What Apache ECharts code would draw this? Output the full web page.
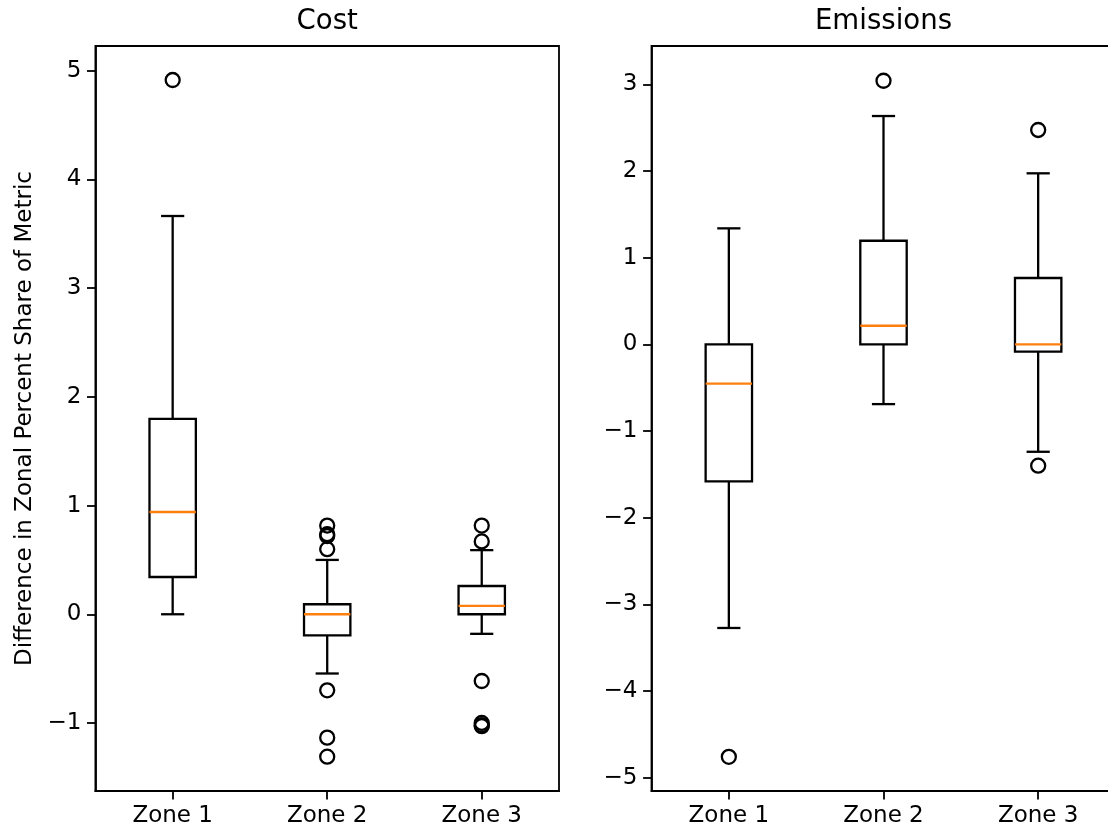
<!DOCTYPE html>
<html>
<head>
<meta charset="utf-8">
<script src="https://cdn.jsdelivr.net/npm/echarts@6/dist/echarts.min.js"></script>
<style>
html,body{margin:0;padding:0;background:#fff;}
#chart{width:1108px;height:830px;}
</style>
</head>
<body>
<div id="chart"></div>
<script>
// ---- data ----
const categories = ['Zone 1', 'Zone 2', 'Zone 3'];
// [low whisker, Q1, median, Q3, high whisker]
const costBoxes = [
  [0.00, 0.343, 0.941, 1.797, 3.664],
  [-0.545, -0.194, 0.00, 0.092, 0.50],
  [-0.18, 0.00, 0.077, 0.26, 0.59]
];
const costOutliers = [
  ['Zone 1', 4.915],
  ['Zone 2', 0.816], ['Zone 2', 0.737], ['Zone 2', 0.72], ['Zone 2', 0.599],
  ['Zone 2', -0.70], ['Zone 2', -1.135], ['Zone 2', -1.31],
  ['Zone 3', 0.816], ['Zone 3', 0.67], ['Zone 3', -0.614],
  ['Zone 3', -1.00], ['Zone 3', -1.02], ['Zone 3', -1.03]
];
const emisBoxes = [
  [-3.273, -1.581, -0.454, 0.00, 1.338],
  [-0.69, 0.00, 0.214, 1.195, 2.634],
  [-1.24, -0.085, 0.00, 0.765, 1.973]
];
const emisOutliers = [
  ['Zone 1', -4.76],
  ['Zone 2', 3.041],
  ['Zone 3', -1.40], ['Zone 3', 2.473]
];
const costTicks = [-1, 0, 1, 2, 3, 4, 5];
const emisTicks = [-5, -4, -3, -2, -1, 0, 1, 2, 3];
const costRange = [-1.626, 5.228];
const emisRange = [-5.154, 3.442];
const titles = ['Cost', 'Emissions'];
const yLabel = 'Difference in Zonal Percent Share of Metric';

// ---- style ----
const FONT = 'DejaVu Sans';
const FS = 23;
const LW = 2.3;
const SP = 1.8;
const ORANGE = '#ff7f0e';

const chart = echarts.init(document.getElementById('chart'), null, {renderer: 'canvas'});

function fmt(v) {
  return v < 0 ? '\u2212' + Math.abs(v) : String(v);
}

function boxRender(params, api) {
  const idx = api.value(0);
  const low = api.value(1), q1 = api.value(2), med = api.value(3), q3 = api.value(4), high = api.value(5);
  const band = api.size([1, 0])[0];
  const hw = band * 0.15;   // box half width (0.3 data units)
  const cw = band * 0.075;  // cap half width
  const pLow = api.coord([idx, low]);
  const pQ1 = api.coord([idx, q1]);
  const pMed = api.coord([idx, med]);
  const pQ3 = api.coord([idx, q3]);
  const pHigh = api.coord([idx, high]);
  const x = pMed[0];
  const black = {stroke: '#000', lineWidth: LW, fill: null};
  return {
    type: 'group',
    children: [
      {type: 'line', shape: {x1: x, y1: pQ1[1], x2: x, y2: pLow[1]}, style: black},
      {type: 'line', shape: {x1: x, y1: pQ3[1], x2: x, y2: pHigh[1]}, style: black},
      {type: 'line', shape: {x1: x - cw, y1: pLow[1], x2: x + cw, y2: pLow[1]}, style: black},
      {type: 'line', shape: {x1: x - cw, y1: pHigh[1], x2: x + cw, y2: pHigh[1]}, style: black},
      {type: 'rect', shape: {x: x - hw, y: pQ3[1], width: 2 * hw, height: pQ1[1] - pQ3[1]},
        style: {stroke: '#000', lineWidth: LW, fill: 'none'}},
      {type: 'line', shape: {x1: x - hw, y1: pMed[1], x2: x + hw, y2: pMed[1]},
        style: {stroke: ORANGE, lineWidth: LW}}
    ]
  };
}

function boxData(boxes) {
  return boxes.map((b, i) => [i].concat(b));
}

const grids = [
  {left: 95.4, top: 46, width: 463.6, height: 745},
  {left: 651.5, top: 46, width: 464, height: 745}
];

function xAxisFor(gi) {
  return {
    type: 'category', gridIndex: gi, data: categories, boundaryGap: true,
    axisLine: {show: true, onZero: false, lineStyle: {color: '#000', width: SP}},
    axisTick: {show: true, alignWithLabel: true, length: 8.4, lineStyle: {color: '#000', width: SP}},
    axisLabel: {color: '#000', fontFamily: FONT, fontSize: FS, margin: 14},
    splitLine: {show: false}
  };
}
function yAxisFor(gi, range, ticks) {
  return {
    type: 'value', gridIndex: gi, min: range[0], max: range[1],
    axisLine: {show: true, onZero: false, lineStyle: {color: '#000', width: SP}},
    axisTick: {show: true, length: 8.4, lineStyle: {color: '#000', width: SP}, customValues: ticks},
    axisLabel: {color: '#000', fontFamily: FONT, fontSize: FS, margin: 14, customValues: ticks, formatter: fmt},
    splitLine: {show: false}
  };
}

const option = {
  backgroundColor: '#fff',
  animation: false,
  grid: grids.map(g => Object.assign({show: true, borderColor: '#000', borderWidth: SP, backgroundColor: 'transparent',
    containLabel: false, outerBoundsMode: 'none'}, g)),
  xAxis: [xAxisFor(0), xAxisFor(1)],
  yAxis: [yAxisFor(0, costRange, costTicks), yAxisFor(1, emisRange, emisTicks)],
  graphic: [
    {type: 'text', x: grids[0].left + grids[0].width / 2, y: 22,
      style: {text: titles[0], font: '27.6px "DejaVu Sans"', fill: '#000', textAlign: 'center', textVerticalAlign: 'middle'}},
    {type: 'text', x: grids[1].left + grids[1].width / 2, y: 22,
      style: {text: titles[1], font: '27.6px "DejaVu Sans"', fill: '#000', textAlign: 'center', textVerticalAlign: 'middle'}},
    {type: 'text', x: 25, y: 418.5, rotation: Math.PI / 2,
      style: {text: yLabel, font: FS + 'px "DejaVu Sans"', fill: '#000', textAlign: 'center', textVerticalAlign: 'middle'}}
  ],
  series: [
    {type: 'custom', xAxisIndex: 0, yAxisIndex: 0, data: boxData(costBoxes), renderItem: boxRender,
      encode: {x: 0, y: [1, 2, 3, 4, 5]}, silent: true},
    {type: 'custom', xAxisIndex: 1, yAxisIndex: 1, data: boxData(emisBoxes), renderItem: boxRender,
      encode: {x: 0, y: [1, 2, 3, 4, 5]}, silent: true},
    {type: 'scatter', xAxisIndex: 0, yAxisIndex: 0, data: costOutliers, symbol: 'circle', symbolSize: 14,
      itemStyle: {color: 'rgba(0,0,0,0)', borderColor: '#000', borderWidth: LW, opacity: 1}, silent: true},
    {type: 'scatter', xAxisIndex: 1, yAxisIndex: 1, data: emisOutliers, symbol: 'circle', symbolSize: 14,
      itemStyle: {color: 'rgba(0,0,0,0)', borderColor: '#000', borderWidth: LW, opacity: 1}, silent: true}
  ]
};
chart.setOption(option);
</script>
</body>
</html>
